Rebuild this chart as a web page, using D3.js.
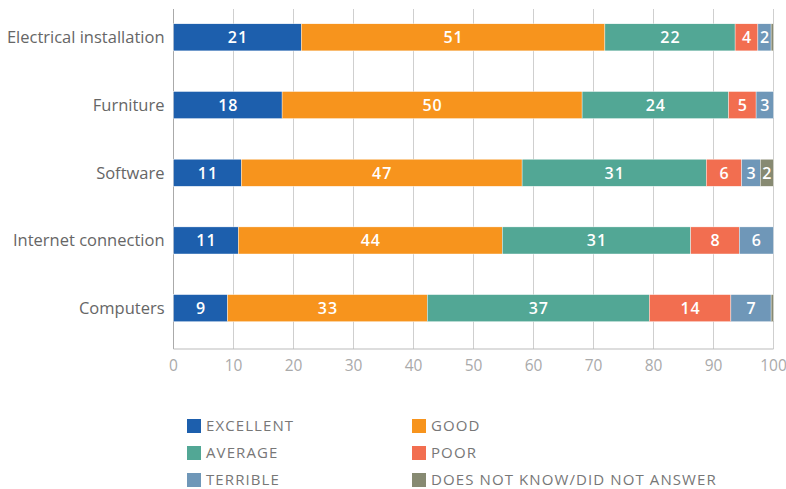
<!DOCTYPE html>
<html>
<head>
<meta charset="utf-8">
<script src="https://cdn.jsdelivr.net/npm/d3@7"></script>
<style>
  body { margin: 0; background: #fff; }
  svg { display: block; font-family: "Open Sans", "Liberation Sans", Arial, sans-serif; }
  .cat-label { fill: #666; font-size: 16.5px; }
  .tick-label { fill: #aaa; font-size: 15.5px; }
  .bar-label { fill: #fff; font-size: 16px; font-weight: 600; letter-spacing: 1px; }
  .legend-label { fill: #777; font-size: 15px; letter-spacing: 1.1px; }
</style>
</head>
<body>
<script>
// categories, top to bottom
var categories = ["Electrical installation", "Furniture", "Software", "Internet connection", "Computers"];
var series = ["EXCELLENT", "GOOD", "AVERAGE", "POOR", "TERRIBLE", "DOES NOT KNOW/DID NOT ANSWER"];
var colours = ["#1d5fad", "#f7941d", "#52a795", "#f26e50", "#6f97b8", "#878a72"];

// percentages per category, one list per answer
var excellent = [21.3, 18.1, 11.3, 10.8, 9.0];
var good      = [50.6, 50.0, 46.8, 44.0, 33.3];
var average   = [21.7, 24.4, 30.7, 31.4, 37.0];
var poor      = [3.8, 4.6, 5.9, 8.1, 13.6];
var terrible  = [2.2, 2.9, 3.1, 5.7, 6.7];
var dnk       = [0.4, 0, 2.2, 0, 0.4];

var xTicks = [0, 10, 20, 30, 40, 50, 60, 70, 80, 90, 100];

var width = 786, height = 489;
var margin = { left: 173.5, right: 12.5, top: 9, bottom: 140 };

var svg = d3.select("body").append("svg")
	.attr("width", width)
	.attr("height", height);

var x = d3.scaleLinear()
	.domain([0, 100])
	.range([margin.left, width - margin.right]);

var y = d3.scaleBand()
	.domain(categories)
	.range([3.5, 342])
	.paddingInner(0.6)
	.paddingOuter(0.3);

var axisY = height - margin.bottom; // 349

// table for stacking
var table = categories.map(function (c, i) {
	return {
		category: c,
		EXCELLENT: excellent[i],
		GOOD: good[i],
		AVERAGE: average[i],
		POOR: poor[i],
		TERRIBLE: terrible[i],
		"DOES NOT KNOW/DID NOT ANSWER": dnk[i]
	};
});
var stacked = d3.stack().keys(series)(table);
var colour = d3.scaleOrdinal().domain(series).range(colours);

// grid lines
svg.append("g").selectAll("line")
	.data(xTicks.slice(1))
	.enter().append("line")
	.attr("x1", d => x(d)).attr("x2", d => x(d))
	.attr("y1", margin.top).attr("y2", axisY)
	.attr("stroke", "#cfcfcf")
	.attr("stroke-width", 1);

// axis lines
svg.append("line")
	.attr("x1", x(0)).attr("x2", x(0))
	.attr("y1", margin.top).attr("y2", axisY)
	.attr("stroke", "#aaa");
svg.append("line")
	.attr("x1", x(0)).attr("x2", x(100))
	.attr("y1", axisY).attr("y2", axisY)
	.attr("stroke", "#bbb");

// x tick labels
svg.append("g").selectAll("text")
	.data(xTicks)
	.enter().append("text")
	.attr("class", "tick-label")
	.attr("x", d => x(d))
	.attr("y", axisY + 22)
	.attr("text-anchor", "middle")
	.text(d => d);

// category labels
svg.append("g").selectAll("text")
	.data(categories)
	.enter().append("text")
	.attr("class", "cat-label")
	.attr("x", x(0) - 9)
	.attr("y", d => y(d) + y.bandwidth() / 2)
	.attr("dy", "0.35em")
	.attr("text-anchor", "end")
	.text(d => d);

// bars
var layers = svg.append("g").selectAll("g")
	.data(stacked)
	.enter().append("g")
	.attr("fill", d => colour(d.key));

layers.selectAll("rect")
	.data(d => d)
	.enter().append("rect")
	.attr("x", d => x(d[0]))
	.attr("y", d => y(d.data.category))
	.attr("width", d => x(d[1]) - x(d[0]))
	.attr("height", y.bandwidth())
	.attr("stroke", "#fff")
	.attr("stroke-width", 0.4);

layers.selectAll("text")
	.data(d => d.filter(s => s[1] - s[0] >= 1))
	.enter().append("text")
	.attr("class", "bar-label")
	.attr("x", d => (x(d[0]) + x(d[1])) / 2 + 0.5)
	.attr("y", d => y(d.data.category) + y.bandwidth() / 2)
	.attr("dy", "0.36em")
	.attr("text-anchor", "middle")
	.text(d => Math.round(d[1] - d[0]));

// legend
var legendCols = [187, 412];
var legendRows = [426, 453, 480];
var legend = svg.append("g").selectAll("g")
	.data(series)
	.enter().append("g")
	.attr("transform", (d, i) => "translate(" + legendCols[i % 2] + "," + legendRows[Math.floor(i / 2)] + ")");
legend.append("rect")
	.attr("x", 0).attr("y", -7)
	.attr("width", 14).attr("height", 14)
	.attr("fill", d => colour(d));
legend.append("text")
	.attr("class", "legend-label")
	.attr("x", 19)
	.attr("dy", "0.36em")
	.text(d => d);
</script>
</body>
</html>
